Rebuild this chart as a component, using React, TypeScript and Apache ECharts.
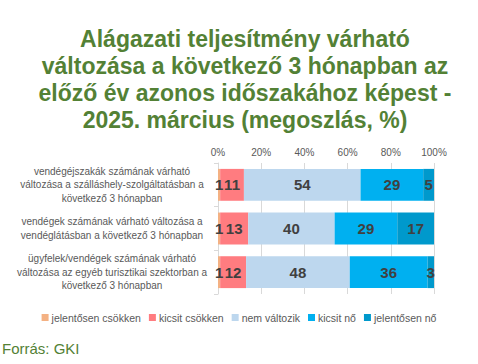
import React, { useEffect, useRef } from "react";
import * as echarts from "echarts";

const categories = [
  "vendégéjszakák számának várható\nváltozása a szálláshely-szolgáltatásban a\nkövetkező 3 hónapban",
  "vendégek számának várható változása a\nvendéglátásban a következő 3 hónapban",
  "ügyfelek/vendégek számának várható\nváltozása az egyéb turisztikai szektorban a\nkövetkező 3 hónapban",
];
const seriesNames = ["jelentősen csökken", "kicsit csökken", "nem változik", "kicsit nő", "jelentősen nő"];
const jelentosenCsokken = [1, 1, 1];
const kicsitCsokken = [11, 13, 12];
const nemValtozik = [54, 40, 48];
const kicsitNo = [29, 29, 36];
const jelentosenNo = [5, 17, 3];
const colors = ["#F4B183", "#FF7C80", "#BDD7EE", "#00B0F0", "#0099CC"];
const xTicks = [0, 20, 40, 60, 80, 100];
const FONT = "Liberation Sans, Arial, sans-serif";

export default function App() {
  const ref = useRef<HTMLDivElement>(null);
  useEffect(() => {
    document.body.style.margin = "0";
    if (!ref.current) return;
    const chart = echarts.init(ref.current, null, { renderer: "svg" });
    const data = [jelentosenCsokken, kicsitCsokken, nemValtozik, kicsitNo, jelentosenNo];
    chart.setOption({
      animation: false,
      textStyle: { fontFamily: FONT },
      title: {
        text: "Alágazati teljesítmény várható\nváltozása a következő 3 hónapban az\nelőző év azonos időszakához képest -\n2025. március (megoszlás, %)",
        left: 240,
        top: 20,
        textAlign: "center",
        textStyle: { color: "#538135", fontSize: 23, fontWeight: "bold", lineHeight: 27, fontFamily: FONT },
      },
      legend: {
        data: seriesNames,
        bottom: 36,
        left: "center",
        itemWidth: 7,
        itemHeight: 7,
        itemGap: 8,
        icon: "rect",
        textStyle: { color: "#595959", fontSize: 10.5, padding: [0, 0, 0, -2] },
      },
      graphic: [
        {
          type: "text",
          left: 2,
          top: 341,
          style: { text: "Forrás: GKI", fill: "#538135", fontSize: 15, fontFamily: FONT },
        },
      ],
      grid: { left: 218, right: 44, top: 163, bottom: 70 },
      xAxis: {
        type: "value",
        position: "top",
        min: 0,
        max: 100,
        interval: 20,
        axisLabel: { formatter: (v: number) => (xTicks.includes(v) ? v + "%" : ""), color: "#595959", fontSize: 10, margin: 6 },
        axisLine: { show: false },
        axisTick: { show: false },
        splitLine: { lineStyle: { color: "#D9D9D9" } },
      },
      yAxis: {
        type: "category",
        inverse: true,
        data: categories,
        axisLine: { show: true, lineStyle: { color: "#D9D9D9" } },
        axisTick: { show: true, length: 4, lineStyle: { color: "#D9D9D9" } },
        axisLabel: { color: "#595959", fontSize: 10, lineHeight: 13.5, align: "center", margin: 106 },
      },
      series: seriesNames.map((name, i) => ({
        name,
        type: "bar",
        stack: "total",
        barCategoryGap: "27%",
        data: data[i],
        itemStyle: { color: colors[i] },
        label: {
          show: true,
          position: "inside",
          color: "#404040",
          fontWeight: "bold",
          fontSize: 15,
        },
      })),
    });
    return () => chart.dispose();
  }, []);
  return <div ref={ref} style={{ width: 478, height: 364, background: "#fff" }} />;
}
